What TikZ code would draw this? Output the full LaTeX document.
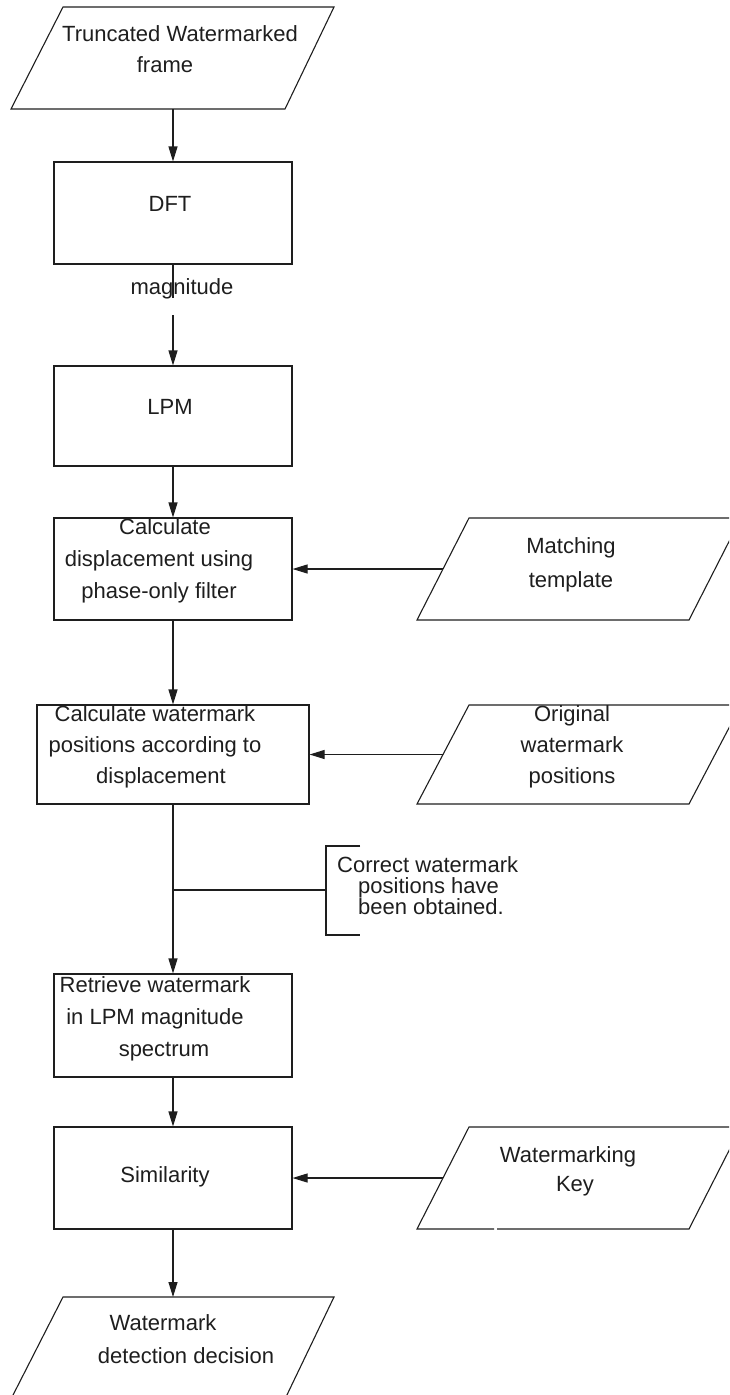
\documentclass[tikz,border=0pt]{standalone}
\usepackage{fontspec}
\setmainfont{Liberation Sans}
\usetikzlibrary{arrows.meta}
\definecolor{ink}{HTML}{1E1E1E}
% zero-width strut that fixes the height of a block's first line
\newcommand{\fst}{\rule{0pt}{17pt}}
% fixed baseline distance even when lines nearly touch
\newcommand{\tightlines}{\lineskiplimit=-30pt\relax}

\begin{document}
\begin{tikzpicture}[x=1pt,y=-1pt,
  outline/.style={draw=ink, line width=1.1pt, line join=miter},
  procbox/.style={outline, rectangle, inner sep=0pt},
  flow/.style={draw=ink, line width=1.1pt, -{Triangle[length=15pt,width=9pt]}},
  plain/.style={draw=ink, line width=1.1pt},
  txt/.style={text=ink, font=\fontsize{22}{32}\selectfont, align=center,
    inner sep=0pt, anchor=north},
]
\useasboundingbox (0,0) rectangle (729,1395);
\clip (0,0) rectangle (729,1395);

% ---------- process boxes ----------
\node[procbox, minimum width=238pt, minimum height=102pt] (dft)  at (173,213)    {};
\node[procbox, minimum width=238pt, minimum height=100pt] (lpm)  at (173,416)    {};
\node[procbox, minimum width=238pt, minimum height=102pt] (disp) at (173,569)    {};
\node[procbox, minimum width=272pt, minimum height=99pt]  (pos)  at (173,754.5)  {};
\node[procbox, minimum width=238pt, minimum height=103pt] (retr) at (173,1025.5) {};
\node[procbox, minimum width=238pt, minimum height=102pt] (sim)  at (173,1178)   {};

% ---------- input / output parallelograms ----------
\draw[outline] (63,7) -- (334,7) -- (285,109) -- (11,109) -- cycle;
\coordinate (inS) at (173,109);

\draw[outline] (469,518) -- (741,518) -- (689,620) -- (417,620) -- cycle;
\coordinate (matchW) at (443,569);

\draw[outline] (469,705) -- (741,705) -- (689,804) -- (417,804) -- cycle;
\coordinate (origW) at (443,754.5);

\draw[outline] (494,1229) -- (417,1229) -- (469,1127) -- (741,1127) -- (689,1229) -- (497,1229);
\coordinate (keyW) at (442.5,1178);

\draw[outline] (63,1297) -- (334,1297) -- (285,1399) -- (11,1399) -- cycle;
\coordinate (outN) at (173,1297);

% ---------- texts ----------
\node[txt, font={\fontsize{22}{31}\selectfont}] (tin) at (180,24)
  {\fst Truncated Watermarked\\frame\hspace*{30pt}};
\node[txt] (tdft) at (170,194) {\fst DFT};
\node[txt] (tmag) at (182,277) {\fst magnitude};
\node[txt] (tlpm) at (170,397) {\fst LPM};
\node[txt] (tdisp) at (159,517)
  {\fst\hspace*{12pt}Calculate\\displacement using\hspace*{8pt}\\phase-only filter};
\node[txt, font={\fontsize{22}{34}\selectfont}] (tmatch) at (571,536)
  {\fst Matching\\template};
\node[txt, font={\fontsize{22}{31}\selectfont}] (tpos) at (155,704)
  {\fst Calculate watermark\\positions according to\\\hspace*{12pt}displacement};
\node[txt, font={\fontsize{22}{31}\selectfont}] (torig) at (572,704)
  {\fst Original\\watermark\\positions};
\node[txt, align=left, anchor=north west,
  font={\fontsize{22}{21}\selectfont\tightlines}] (tnote) at (337,855)
  {\fst Correct watermark\\\hspace*{21pt}positions have\\\hspace*{21pt}been obtained.};
\node[txt] (tretr) at (155,975)
  {\fst Retrieve watermark\\in LPM magnitude\\\hspace*{18pt}spectrum};
\node[txt] (tsim) at (165,1165) {\fst Similarity};
\node[txt, font={\fontsize{22}{29}\selectfont}] (tkey) at (568,1145)
  {\fst Watermarking\\\hspace*{14pt}Key};
\node[txt, font={\fontsize{22}{33}\selectfont}] (tout) at (186,1313)
  {\fst Watermark\hspace*{46pt}\\detection decision};

% ---------- connectors ----------
\draw[flow] (inS) -- (dft.north);
\coordinate (magA) at (173,298);
\coordinate (magB) at (173,315);
\draw[plain] (dft.south) -- (magA);
\draw[flow] (magB) -- (lpm.north);
\draw[flow] (lpm.south) -- (disp.north);
\draw[flow] (matchW) -- (disp.east);
\draw[flow] (disp.south) -- (pos.north);
\draw[flow] (origW) -- (pos.east);
\draw[flow] (pos.south) -- (retr.north);
\draw[flow] (retr.south) -- (sim.north);
\draw[flow] (keyW) -- (sim.east);
\draw[flow] (sim.south) -- (outN);

% annotation bracket attached to the flow line
\coordinate (br)    at (173,890);
\coordinate (brk)   at (326,890);
\coordinate (brkT)  at (326,846);
\coordinate (brkB)  at (326,935);
\coordinate (brkTe) at (360,846);
\coordinate (brkBe) at (360,935);
\draw[plain] (br) -- (brk);
\draw[plain] (brkTe) -- (brkT) -- (brkB) -- (brkBe);
\end{tikzpicture}
\end{document}
